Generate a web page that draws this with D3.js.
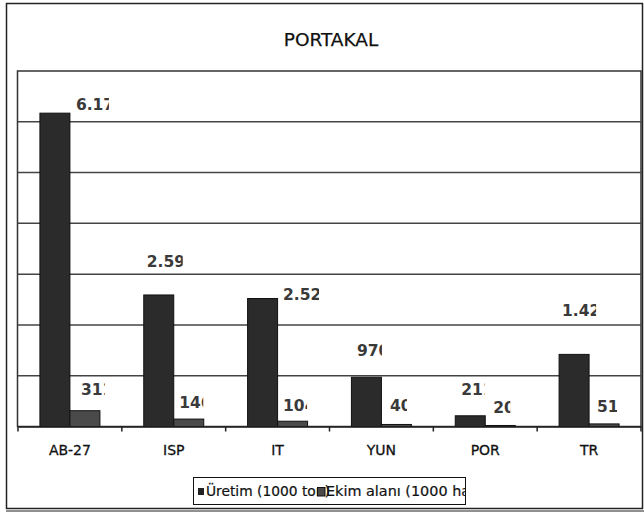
<!DOCTYPE html>
<html><head><meta charset="utf-8">
<script src="https://cdn.jsdelivr.net/npm/d3@7/dist/d3.min.js"></script>
<style>body{margin:0;background:#fff}svg{display:block}</style>
</head><body>
<script>
// ---- data ----
const categories = ["AB-27", "ISP", "IT", "YUN", "POR", "TR"];
const uretim = [6170, 2590, 2520, 970, 211, 1420];   // Üretim (1000 ton)
const ekim = [311, 146, 104, 40, 20, 51];            // Ekim alanı (1000 ha)
const seriesNames = ["Üretim (1000 ton)", "Ekim alanı (1000 ha)"];
const yTicks = [0, 1000, 2000, 3000, 4000, 5000, 6000, 7000];
const title = "PORTAKAL";

// ---- layout (label offsets / clipping, as in the original rendering) ----
const uretimDx = [6, -27, 5.5, -24.5, -24, -27];
const uretimDy = [-3, -28, 1.5, -21, -21, -38];
const uretimClip = [33, 36, 36, 25, 23.5, 34];
const ekimDx = [11, 5.5, 5.5, 8.5, 8, 8];
const ekimDy = [-16, -11, -10, -13, -12.5, -11.5];
const ekimClip = [24, 24, 24, 17, 17, 20];

const W = 644, H = 518;
const svg = d3.select("body").append("svg").attr("width", W).attr("height", H);
const defs = svg.append("defs");
const fmt = d3.formatLocale({decimal: ",", thousands: ".", grouping: [3], currency: ["", ""]}).format(",d");

// outer frame
svg.append("rect").attr("x", 6.5).attr("y", 3.5).attr("width", 636).attr("height", 505)
  .attr("fill", "none").attr("stroke", "#222").attr("stroke-width", 1.5);
svg.append("line").attr("x1", 6).attr("x2", 644).attr("y1", 511).attr("y2", 511)
  .attr("stroke", "#222").attr("stroke-width", 1);

// title
svg.append("text").attr("x", 331).attr("y", 46).attr("text-anchor", "middle")
  .attr("font-family", "DejaVu Sans").attr("font-size", 18.5).attr("fill", "#111")
  .attr("stroke", "#111").attr("stroke-width", 0.25).text(title);

const x0 = 18, x1 = 641, yTop = 71, yBot = 426.5;
const x = d3.scaleBand().domain(categories).range([x0, x1]).padding(0);
const y = d3.scaleLinear().domain([0, 7000]).range([yBot, yTop]);
const bw = x.bandwidth();
const barW = 30;

// plot area box
svg.append("rect").attr("x", x0 - 0.5).attr("y", yTop).attr("width", x1 - x0 + 0.5).attr("height", yBot - yTop)
  .attr("fill", "#fff").attr("stroke", "#333").attr("stroke-width", 1.5);

// gridlines
svg.append("g").selectAll("line").data(yTicks.filter(t => t > 0 && t < 7000)).join("line")
  .attr("x1", x0).attr("x2", x1).attr("y1", d => y(d)).attr("y2", d => y(d))
  .attr("stroke", "#444").attr("stroke-width", 1.5);

// bars
const gBars = svg.append("g");
gBars.selectAll("rect.u").data(uretim).join("rect").attr("class", "u")
  .attr("x", (d, i) => x(categories[i]) + bw / 2 - barW)
  .attr("y", d => y(d)).attr("width", barW).attr("height", d => yBot - y(d))
  .attr("fill", "#2b2b2b").attr("stroke", "#111").attr("stroke-width", 1);
gBars.selectAll("rect.e").data(ekim).join("rect").attr("class", "e")
  .attr("x", (d, i) => x(categories[i]) + bw / 2)
  .attr("y", d => y(d)).attr("width", barW).attr("height", d => yBot - y(d))
  .attr("fill", "#4a4a4a").attr("stroke", "#111").attr("stroke-width", 1);

// x axis
const xAxis = d3.axisBottom(x).tickSize(0).tickFormat(d => d);
const gx = svg.append("g").attr("transform", `translate(0,${yBot})`).call(xAxis);
gx.select(".domain").attr("stroke", "#222").attr("stroke-width", 1.5);
gx.selectAll("text").attr("font-family", "DejaVu Sans").attr("font-size", 14).attr("fill", "#111")
  .attr("stroke", "#111").attr("stroke-width", 0.3).attr("dy", 0).attr("y", 28.5);
// band boundary ticks
svg.append("g").selectAll("line").data(d3.range(categories.length + 1)).join("line")
  .attr("x1", i => x0 + i * bw).attr("x2", i => x0 + i * bw)
  .attr("y1", yBot).attr("y2", yBot + 5).attr("stroke", "#222").attr("stroke-width", 1.5);

// data labels (clipped as in the original)
function labels(vals, dx, dy, clipW, key) {
  const g = svg.append("g");
  vals.forEach((v, i) => {
    const lx = x(categories[i]) + bw / 2 + dx[i];
    const ly = y(v) + dy[i];
    const id = `clip-${key}-${i}`;
    defs.append("clipPath").attr("id", id).append("rect")
      .attr("x", lx - 1).attr("y", ly - 18).attr("width", clipW[i] + 1).attr("height", 24);
    g.append("text").attr("x", lx).attr("y", ly).attr("clip-path", `url(#${id})`)
      .attr("font-family", "DejaVu Sans").attr("font-weight", "bold").attr("font-size", 15.5)
      .attr("fill", "#3a3a3a").text(fmt(v));
  });
}
labels(uretim, uretimDx, uretimDy, uretimClip, "u");
labels(ekim, ekimDx, ekimDy, ekimClip, "e");

// legend
const lg = svg.append("g");
const lx0 = 193, ly0 = 477, lw = 272, lh = 27;
defs.append("clipPath").attr("id", "legclip").append("rect").attr("x", lx0).attr("y", ly0).attr("width", lw).attr("height", lh);
lg.append("rect").attr("x", lx0 + 0.5).attr("y", ly0 + 0.5).attr("width", lw).attr("height", lh)
  .attr("fill", "#fff").attr("stroke", "#111").attr("stroke-width", 1);
const lc = lg.append("g").attr("clip-path", "url(#legclip)");
lc.append("rect").attr("x", 198).attr("y", 488).attr("width", 6).attr("height", 7).attr("fill", "#222");
lc.append("text").attr("x", 206).attr("y", 496).attr("font-family", "DejaVu Sans").attr("font-size", 13.8)
  .attr("fill", "#111").attr("stroke", "#111").attr("stroke-width", 0.2).text(seriesNames[0]);
lc.append("rect").attr("x", 317.5).attr("y", 487.5).attr("width", 7.5).attr("height", 8.5)
  .attr("fill", "#4a4a4a").attr("stroke", "#111").attr("stroke-width", 1);
lc.append("text").attr("x", 326).attr("y", 496).attr("font-family", "DejaVu Sans").attr("font-size", 14.4)
  .attr("fill", "#111").attr("stroke", "#111").attr("stroke-width", 0.2).text(seriesNames[1]);
</script>
</body></html>
